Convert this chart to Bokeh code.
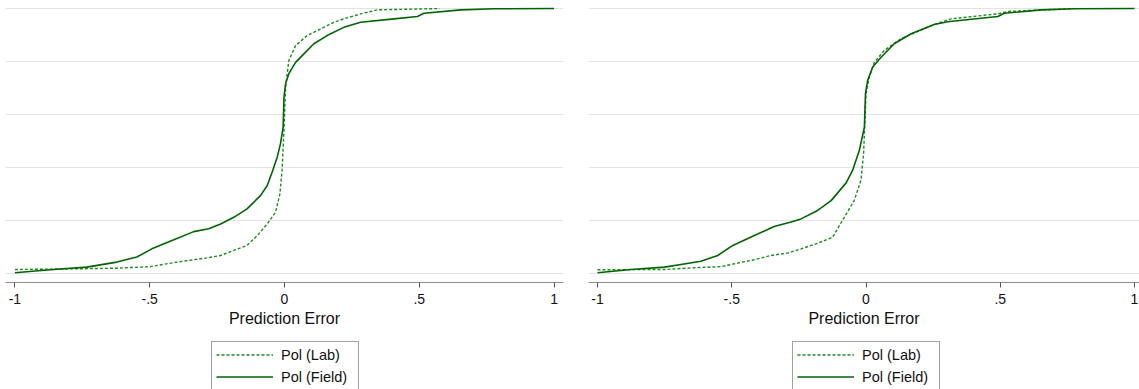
from bokeh.plotting import figure
from bokeh.layouts import row, column
from bokeh.models import FixedTicker, Legend, LegendItem, Range1d
from bokeh.embed import file_html
from bokeh.resources import INLINE

# ---- data ----
x_ticks = [-1, -0.5, 0, 0.5, 1]
x_tick_labels = ["-1", "-.5", "0", ".5", "1"]
y_grid = [0, 0.2, 0.4, 0.6, 0.8, 1.0]
series_names = ["Pol (Lab)", "Pol (Field)"]

left_lab_x = [-1.0, -0.746, -0.622, -0.498, -0.399, -0.287, -0.237, -0.188, -0.139, -0.101,
              -0.064, -0.033, -0.017, -0.009, -0.002, 0.004, 0.016, 0.041, 0.084, 0.134,
              0.183, 0.22, 0.283, 0.345, 0.575]
left_lab_y = [0.015, 0.018, 0.02, 0.026, 0.043, 0.059, 0.068, 0.087, 0.106, 0.143,
              0.187, 0.231, 0.301, 0.389, 0.54, 0.703, 0.804, 0.86, 0.898, 0.923,
              0.948, 0.961, 0.98, 0.995, 1.0]

left_field_x = [-1.0, -0.87, -0.734, -0.622, -0.548, -0.492, -0.424, -0.337, -0.281, -0.237,
                -0.188, -0.139, -0.089, -0.064, -0.046, -0.027, -0.015, -0.005, -0.002, 0.004,
                0.016, 0.041, 0.072, 0.109, 0.158, 0.22, 0.282, 0.406, 0.493, 0.518,
                0.654, 0.778, 1.0]
left_field_y = [0.003, 0.014, 0.024, 0.043, 0.062, 0.093, 0.122, 0.158, 0.169, 0.187,
                0.212, 0.244, 0.294, 0.332, 0.382, 0.439, 0.489, 0.552, 0.665, 0.716,
                0.754, 0.797, 0.829, 0.867, 0.898, 0.929, 0.948, 0.961, 0.97, 0.982,
                0.995, 0.999, 1.0]

right_lab_x = [-1.0, -0.751, -0.652, -0.54, -0.416, -0.354, -0.292, -0.242, -0.18, -0.124,
               -0.081, -0.044, -0.019, -0.009, -0.004, 0.0, 0.012, 0.031, 0.068, 0.13,
               0.254, 0.317, 0.491, 0.528, 0.664, 0.775]
right_lab_y = [0.014, 0.015, 0.021, 0.026, 0.052, 0.068, 0.077, 0.093, 0.114, 0.137,
               0.212, 0.275, 0.351, 0.452, 0.577, 0.678, 0.741, 0.797, 0.842, 0.886,
               0.94, 0.961, 0.98, 0.989, 0.995, 1.0]

right_field_x = [-1.0, -0.875, -0.751, -0.689, -0.615, -0.552, -0.496, -0.416, -0.342, -0.279,
                 -0.242, -0.18, -0.13, -0.074, -0.05, -0.025, -0.006, -0.002, 0.006, 0.025,
                 0.056, 0.105, 0.168, 0.254, 0.304, 0.491, 0.515, 0.652, 0.776, 1.0]
right_field_y = [0.003, 0.015, 0.024, 0.034, 0.046, 0.068, 0.106, 0.143, 0.177, 0.194,
                 0.206, 0.238, 0.275, 0.342, 0.389, 0.464, 0.552, 0.678, 0.728, 0.779,
                 0.816, 0.867, 0.905, 0.94, 0.95, 0.97, 0.982, 0.995, 0.999, 1.0]

FONT = "Liberation Sans"
LAB_COLOR = "#1f8a1f"
FIELD_COLOR = "#006400"
LAB_STYLE = dict(line_color=LAB_COLOR, line_width=1.4, line_dash="3 2")
FIELD_STYLE = dict(line_color=FIELD_COLOR, line_width=1.6)

MAIN_H = 340
LEG_H = 389 - MAIN_H


def make_panel(width, border_left, border_right, x_start, x_end, lab_x, lab_y, field_x, field_y):
    p = figure(width=width, height=MAIN_H, output_backend="svg", toolbar_location=None,
               x_range=Range1d(x_start, x_end), y_range=Range1d(-0.034, 1.019),
               min_border_left=border_left, min_border_right=border_right,
               min_border_top=3, min_border_bottom=MAIN_H - 282)
    p.outline_line_color = None
    p.background_fill_color = "white"
    p.border_fill_color = "white"

    p.yaxis.visible = False
    p.xgrid.visible = False
    p.ygrid.ticker = FixedTicker(ticks=y_grid)
    p.ygrid.grid_line_color = "#e3e3e3"
    p.ygrid.grid_line_width = 1

    ax = p.xaxis[0]
    ax.ticker = FixedTicker(ticks=x_ticks)
    ax.major_label_overrides = {t: l for t, l in zip(x_ticks, x_tick_labels)}
    ax.minor_tick_line_color = None
    ax.major_tick_in = 0
    ax.major_tick_out = 5
    ax.major_tick_line_color = "#555555"
    ax.axis_line_color = "#8c8c8c"
    ax.axis_line_width = 1.2
    ax.major_label_text_font = FONT
    ax.major_label_text_font_size = "14px"
    ax.major_label_text_color = "#111111"
    ax.major_label_standoff = 6
    ax.axis_label = "Prediction Error"
    ax.axis_label_text_font = FONT
    ax.axis_label_text_font_size = "16px"
    ax.axis_label_text_font_style = "normal"
    ax.axis_label_text_color = "#111111"
    ax.axis_label_standoff = 3

    p.line(lab_x, lab_y, **LAB_STYLE)
    p.line(field_x, field_y, **FIELD_STYLE)
    return p


def make_legend_fig(width, legend_x, lab_x, lab_y, field_x, field_y):
    # ranges are set away from the data so the lines themselves stay hidden;
    # they only serve as the legend's glyph sources
    lf = figure(width=width, height=LEG_H, output_backend="svg", toolbar_location=None,
                x_axis_type=None, y_axis_type=None,
                x_range=Range1d(10, 11), y_range=Range1d(10, 11),
                min_border_left=0, min_border_right=0, min_border_top=0, min_border_bottom=0)
    lf.outline_line_color = None
    lf.xgrid.visible = False
    lf.ygrid.visible = False
    r_lab = lf.line(lab_x, lab_y, **LAB_STYLE)
    r_field = lf.line(field_x, field_y, **FIELD_STYLE)
    legend = Legend(items=[LegendItem(label=series_names[0], renderers=[r_lab]),
                           LegendItem(label=series_names[1], renderers=[r_field])],
                    location=(legend_x, -1),
                    orientation="vertical",
                    border_line_color="#444444", border_line_width=1,
                    background_fill_color="white", background_fill_alpha=1,
                    label_text_font=FONT, label_text_font_size="14.5px",
                    label_text_color="#111111",
                    glyph_width=57, glyph_height=17, label_standoff=8,
                    label_width=73, padding=4, spacing=5, margin=0)
    lf.add_layout(legend, "center")
    return lf


p1 = make_panel(583, 5, 20, -1.035, 1.035, left_lab_x, left_lab_y, left_field_x, left_field_y)
p2 = make_panel(556, 5, 0, -1.0335, 1.0186, right_lab_x, right_lab_y, right_field_x, right_field_y)
l1 = make_legend_fig(583, 211, left_lab_x, left_lab_y, left_field_x, left_field_y)
l2 = make_legend_fig(556, 209, right_lab_x, right_lab_y, right_field_x, right_field_y)

layout = column(row(p1, p2), row(l1, l2))
open("out.html", "w").write(file_html(layout, INLINE))
